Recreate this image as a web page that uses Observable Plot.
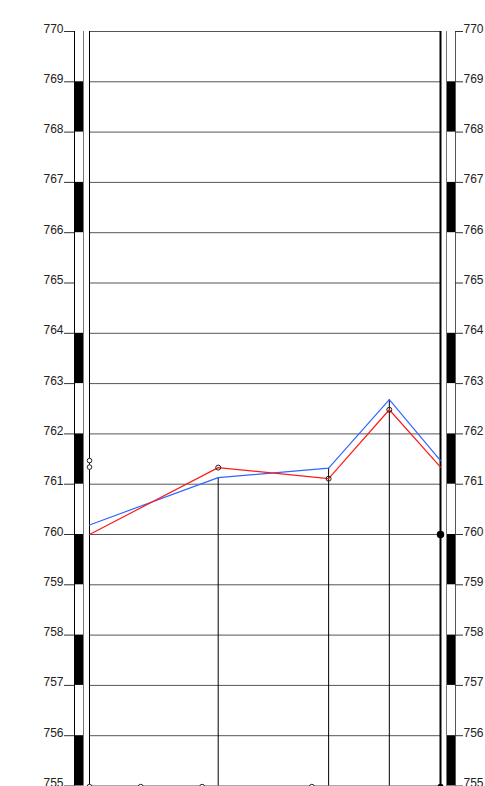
<!DOCTYPE html>
<html>
<head>
<meta charset="utf-8">
<script src="https://cdn.jsdelivr.net/npm/d3@7"></script>
<script src="https://cdn.jsdelivr.net/npm/@observablehq/plot@0.6"></script>
<style>
  html, body { margin: 0; padding: 0; background: #fff; overflow: hidden; }
  svg { display: block; }
</style>
</head>
<body>
<div id="chart"></div>
<script>
// ---- data ----
const hours = [0, 8.8, 16.35, 20.5, 24];
const pressureBlue = [760.19, 761.13, 761.32, 762.68, 761.47];
const pressureRed = [760.0, 761.33, 761.11, 762.48, 761.34];
const tickValues = [755, 756, 757, 758, 759, 760, 761, 762, 763, 764, 765, 766, 767, 768, 769, 770];
const blackBandLow = [755, 757, 759, 761, 763, 766, 768];
const blackBandHigh = [756, 758, 760, 762, 764, 767, 769];
const edgeMarks = [761.47, 761.34];
const rightMark = [760];
const bottomHollowHours = [0, 3.5, 7.7, 15.2];
const bottomFilledHours = [24];
const bottomLevel = 755;

const bands = blackBandLow.map((lo, i) => ({lo, hi: blackBandHigh[i]}));
const blue = hours.map((h, i) => ({h, v: pressureBlue[i]}));
const red = hours.map((h, i) => ({h, v: pressureRed[i]}));

const font = "Liberation Sans, Arial, sans-serif";

const chart = Plot.plot({
  width: 485,
  height: 790,
  marginLeft: 89,
  marginRight: 45,
  marginTop: 31,
  marginBottom: 4.5,
  style: {background: "#fff", fontFamily: font, overflow: "visible"},
  x: {domain: [0, 24], axis: null},
  y: {domain: [755, 770], axis: null},
  marks: [
    // horizontal grid
    Plot.ruleY(tickValues, {stroke: "#555", strokeWidth: 1}),
    // left scale column
    Plot.rect(bands, {x1: 0, x2: 0, y1: "lo", y2: "hi", insetLeft: -15, insetRight: 6, fill: "#000"}),
    Plot.ruleX([0], {dx: -15, stroke: "#000", strokeWidth: 1}),
    Plot.ruleX([0], {dx: -6, stroke: "#777", strokeWidth: 1}),
    Plot.ruleX([0], {stroke: "#000", strokeWidth: 1}),
    Plot.ruleY(tickValues, {x1: 0, x2: 0, insetLeft: -25, insetRight: 15, stroke: "#333"}),
    Plot.text(tickValues, {x: 0, y: d => d, dx: -26, dy: 1, textAnchor: "end", lineAnchor: "bottom", fontSize: 12, fill: "#222"}),
    // right scale column
    Plot.rect(bands, {x1: 24, x2: 24, y1: "lo", y2: "hi", insetLeft: 6, insetRight: -15, fill: "#000"}),
    Plot.ruleX([24], {stroke: "#000", strokeWidth: 2}),
    Plot.ruleX([24], {dx: 6, stroke: "#777", strokeWidth: 1}),
    Plot.ruleX([24], {dx: 15, stroke: "#555", strokeWidth: 1}),
    Plot.ruleY(tickValues, {x1: 24, x2: 24, insetLeft: 15, insetRight: -23, stroke: "#333"}),
    Plot.text(tickValues, {x: 24, y: d => d, dx: 23, dy: 1, textAnchor: "start", lineAnchor: "bottom", fontSize: 12, fill: "#222"}),
    // drop lines from readings
    Plot.ruleX(blue.slice(1, 4), {x: "h", y1: "v", y2: 755, stroke: "#000", strokeWidth: 1}),
    // series
    Plot.line(blue, {x: "h", y: "v", stroke: "#2f66ff", strokeWidth: 1.2}),
    Plot.line(red, {x: "h", y: "v", stroke: "#ff1a1a", strokeWidth: 1.2}),
    Plot.dot(red.slice(1, 4), {x: "h", y: "v", r: 2.5, stroke: "#222", strokeWidth: 1, fill: "none"}),
    // edge markers
    Plot.dot(edgeMarks, {x: 0, y: d => d, r: 2.3, stroke: "#222", strokeWidth: 1, fill: "#fff"}),
    Plot.dot(rightMark, {x: 24, y: d => d, r: 3, fill: "#000", stroke: "#000"}),
    Plot.dot(bottomHollowHours, {x: d => d, y: bottomLevel, dy: 0.8, r: 2.5, stroke: "#222", strokeWidth: 1, fill: "#fff"}),
    Plot.dot(bottomFilledHours, {x: d => d, y: bottomLevel, dy: 0.8, r: 3, fill: "#000"})
  ]
});
document.getElementById("chart").appendChild(chart);
</script>
</body>
</html>
